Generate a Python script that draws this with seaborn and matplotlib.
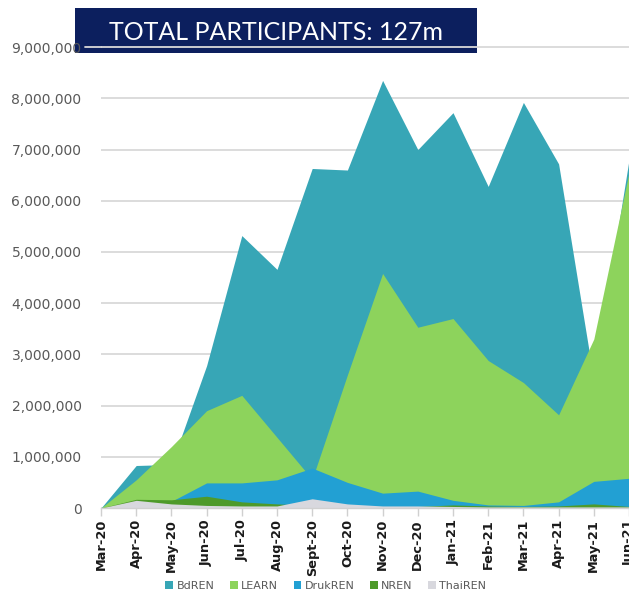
import numpy as np
import pandas as pd
import matplotlib
matplotlib.use("Agg")
import matplotlib.pyplot as plt
import seaborn as sns
from matplotlib.patches import Rectangle, Patch
from matplotlib.lines import Line2D
from matplotlib.ticker import FuncFormatter

# monthly participants per NREN
months = ["Mar-20", "Apr-20", "May-20", "Jun-20", "Jul-20", "Aug-20", "Sept-20", "Oct-20",
          "Nov-20", "Dec-20", "Jan-21", "Feb-21", "Mar-21", "Apr-21", "May-21", "Jun-21"]
bdren = [0, 830000, 850000, 2780000, 5320000, 4660000, 6630000, 6600000,
         8350000, 7000000, 7720000, 6280000, 7920000, 6720000, 2500000, 6800000]
learn = [0, 550000, 1200000, 1900000, 2200000, 1380000, 560000, 2600000,
         4580000, 3530000, 3700000, 2880000, 2450000, 1820000, 3300000, 6550000]
drukren = [0, 100000, 130000, 490000, 490000, 550000, 780000, 500000,
           290000, 330000, 150000, 60000, 50000, 120000, 520000, 580000]
nren = [0, 170000, 160000, 230000, 120000, 80000, 50000, 40000,
        30000, 30000, 60000, 40000, 30000, 40000, 80000, 30000]
thairen = [0, 150000, 80000, 50000, 40000, 40000, 180000, 80000,
           40000, 40000, 30000, 20000, 20000, 20000, 20000, 20000]

series = ["BdREN", "LEARN", "DrukREN", "NREN", "ThaiREN"]
colors = ["#37a6b6", "#8dd35c", "#22a0d3", "#4e9a2a", "#d8d8de"]

df = pd.DataFrame({"month": months, "BdREN": bdren, "LEARN": learn,
                   "DrukREN": drukren, "NREN": nren, "ThaiREN": thairen})

sns.set_theme(style="white")
plt.rcParams["font.family"] = ["DejaVu Sans"]
pal = sns.color_palette(colors)

W, H = 629, 594
fig = plt.figure(figsize=(W / 100, H / 100), dpi=100)
ax = fig.add_axes([101 / W, 86 / H, 528 / W, (508 - 42) / H])

x = np.arange(len(df))
# plain (overlapping) area chart, first series at the back
for i, name in enumerate(series):
    ax.fill_between(x, 0, df[name], color=pal[i], lw=0, zorder=1 + i * 0.01)

ax.set_xlim(0, len(df) - 1)
ax.set_ylim(0, 9.1e6)
ax.set_yticks(np.arange(0, 9.5e6, 1e6))
ax.yaxis.set_major_formatter(FuncFormatter(lambda v, p: f"{v:,.0f}"))
ax.set_xticks(x)
ax.set_xticklabels(df["month"], rotation=90, fontsize=9.3, fontweight="bold", color="#1a1a1a")

ax.yaxis.grid(True, color="#d9d9d9", lw=1.3)
ax.xaxis.grid(False)
sns.despine(ax=ax, left=True, top=True, right=True)
ax.spines["bottom"].set_color("#d0d0d0")
ax.spines["bottom"].set_linewidth(1.0)
ax.tick_params(axis="x", length=6, width=1, color="#d0d0d0", pad=2, bottom=True)
ax.tick_params(axis="y", length=0, pad=14, labelsize=10, labelcolor="#595959")
ax.set_xlabel("")
ax.set_ylabel("")

# title banner
box = Rectangle((75 / W, 1 - 53 / H), 402 / W, 45 / H, transform=fig.transFigure,
                facecolor="#0c1f5e", edgecolor="none", clip_on=False, zorder=0.2)
ax.add_patch(box)
ax.add_line(Line2D([85 / W, 101 / W], [1 - 47 / H, 1 - 47 / H], transform=fig.transFigure,
                   color="#d9d9d9", lw=1.3, clip_on=False, zorder=0.6))
fig.text(276 / W, 1 - 33 / H, "TOTAL PARTICIPANTS: 127m", color="white", fontsize=18,
         ha="center", va="center", family=["Lato", "DejaVu Sans"])

handles = [Patch(facecolor=pal[i], edgecolor="none") for i in range(len(series))]
fig.legend(handles, series, loc="center", bbox_to_anchor=(0.518, 0.014), ncol=5,
           frameon=False, fontsize=8, handlelength=0.7, handleheight=0.7,
           handletextpad=0.3, columnspacing=1.4, labelcolor="#595959")

fig.savefig("out.png", dpi=100)
